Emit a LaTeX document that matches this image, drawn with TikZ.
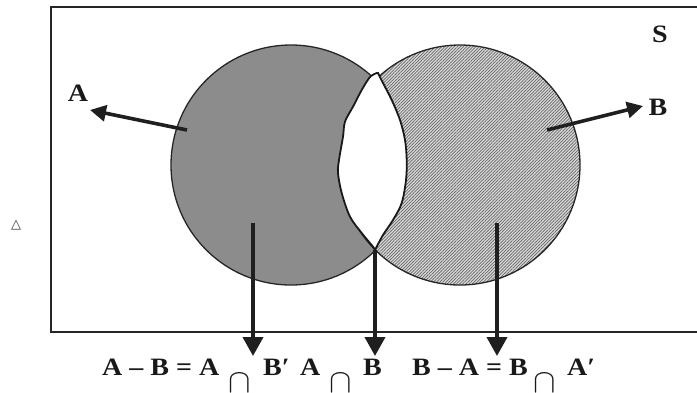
\documentclass[tikz,border=0pt]{standalone}
\usepackage{fontspec}
\setmainfont{Liberation Serif}
\newfontfamily\symfont{DejaVu Sans}
\usetikzlibrary{arrows.meta,patterns.meta}
\begin{document}
\begin{tikzpicture}[x=1pt,y=-1pt,
  frame/.style={line width=2.6pt, draw=black!85},
  setA/.style={fill=black!45},
  outline/.style={draw=black!85, line width=1.3pt},
  lensline/.style={draw=black!90, line width=1.8pt, fill=white},
  lbl/.style={font=\fontsize{25}{29}\selectfont\bfseries, inner sep=0pt, text=black!90},
  capsym/.style={font=\fontsize{24.88}{28}\selectfont, inner sep=0pt, text=black!90},
  pointer/.style={line width=3.8pt, draw=black!88, -{Triangle[length=19pt,width=20pt]}},
  sidepointer/.style={line width=3.6pt, draw=black!88, -{Triangle[length=16pt,width=16pt]}},
]
\useasboundingbox (0,0) rectangle (697,392);
% universal set frame (right side beyond the picture)
\draw[frame] (697,7) -- (51,7) -- (51,332) -- (697,332);
% circles
\coordinate (ca) at (291,165);
\coordinate (cb) at (460,165);
\fill[setA] (ca) circle[radius=120pt];
\draw[outline] (ca) circle[radius=120pt];
\fill[black!15] (cb) circle[radius=120pt];
\fill[pattern={Lines[angle=45,distance=2.2pt,line width=0.7pt]}, pattern color=black!60] (cb) circle[radius=120pt];
\draw[outline] (cb) circle[radius=120pt];
% lens (A intersect B) left white
\draw[lensline] plot[smooth, tension=0.55] coordinates {(377,73) (370,77) (361.7,90) (353,106.7) (345,121.7) (343,136.7) (339,160) (338,173) (341.7,193) (350,216.7) (361.7,233) (373,246.7) (375,250)}
  -- plot[smooth, tension=0.55] coordinates {(375,250) (383,235) (393,220) (401.7,203) (406,180) (406.7,160) (405,140) (400,120) (391.7,100) (383,83) (378,73)} -- cycle;
% labels
\node[lbl] (S) at (660,34) {\scalebox{1.12}[1]{S}};
\node[lbl] (labA) at (78,93) {\scalebox{1.12}[1]{A}};
\node[lbl] (labB) at (658,107) {\scalebox{1.12}[1]{B}};
\node[font=\symfont\fontsize{13}{15}\selectfont, inner sep=0pt, text=black!80] (tri) at (16,225) {△};
% side pointers
\coordinate (pa) at (187,130);
\coordinate (ta) at (90,110);
\coordinate (pb) at (547,130);
\coordinate (tb) at (643,106);
\draw[sidepointer] (pa) -- (ta);
\draw[sidepointer] (pb) -- (tb);
% downward pointers
\coordinate (d1) at (253,223);
\coordinate (e1) at (253,356);
\coordinate (d2) at (375,250);
\coordinate (e2) at (375,356);
\coordinate (d3) at (497,223);
\coordinate (e3) at (497,356);
\draw[pointer] (d1) -- (e1);
\draw[pointer] (d2) -- (e2);
\draw[pointer] (d3) -- (e3);
% bottom formulas
\node[lbl, anchor=base west] (f1) at (102,375) {\scalebox{1.12}[1]{A – B = A}};
\node[capsym, anchor=base] (c1) at (240,392) {\scalebox{1.35}{$\cap$}};
\node[lbl, anchor=base west] (f1b) at (263,375) {\scalebox{1.12}[1]{B′}};
\node[lbl, anchor=base west] (f2) at (300,375) {\scalebox{1.12}[1]{A}};
\node[capsym, anchor=base] (c2) at (341,392) {\scalebox{1.35}{$\cap$}};
\node[lbl, anchor=base west] (f2b) at (363,375) {\scalebox{1.12}[1]{B}};
\node[lbl, anchor=base west] (f3) at (412,375) {\scalebox{1.12}[1]{B – A = B}};
\node[capsym, anchor=base] (c3) at (545,392) {\scalebox{1.35}{$\cap$}};
\node[lbl, anchor=base west] (f3b) at (567,375) {\scalebox{1.12}[1]{A′}};
\end{tikzpicture}
\end{document}
